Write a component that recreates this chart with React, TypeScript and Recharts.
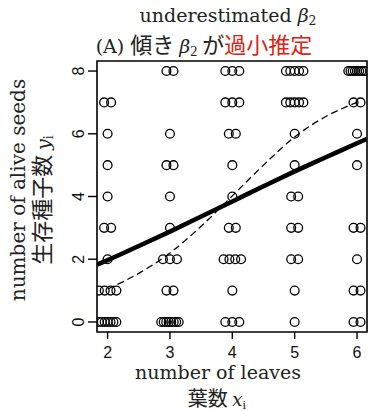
import React from 'react'
import { ComposedChart, Scatter, Line, XAxis, YAxis, ReferenceArea } from 'recharts'

// number of leaves (x) and possible seed counts (y, out of 8)
const leafValues = [2, 3, 4, 5, 6]
const seedLevels = [0, 1, 2, 3, 4, 5, 6, 7, 8]

// how many plants sit at each seed level, one array per leaf count
const countsAt2 = [7, 4, 1, 2, 1, 1, 1, 2, 0]
const countsAt3 = [8, 2, 3, 1, 1, 2, 1, 0, 2]
const countsAt4 = [3, 1, 4, 2, 1, 1, 2, 3, 3]
const countsAt5 = [1, 1, 2, 2, 2, 1, 1, 5, 5]
const countsAt6 = [2, 2, 1, 2, 0, 1, 1, 2, 9]
const countsByLeaf = [countsAt2, countsAt3, countsAt4, countsAt5, countsAt6]

// fitted curves
const solidX = [1.83, 2, 2.5, 3, 3.5, 4, 4.5, 5, 5.5, 6, 6.16]
const solidY = [1.83, 1.97, 2.42, 2.88, 3.36, 3.84, 4.33, 4.8, 5.25, 5.7, 5.84]
const dashX = [2, 2.5, 3, 3.5, 4, 4.5, 5, 5.5, 6]
const dashY = [1.05, 1.55, 2.2, 3.05, 4.02, 5.0, 5.9, 6.55, 7.0]

const xTicks = [2, 3, 4, 5, 6]
const yTicks = [0, 2, 4, 6, 8]

// spread overlapping points side by side
const points: { x: number; y: number }[] = []
leafValues.forEach((leaf, i) => {
  countsByLeaf[i].forEach((n, j) => {
    const step = n > 1 ? Math.min(0.112, 0.28 / (n - 1)) : 0
    for (let k = 0; k < n; k++) {
      points.push({ x: leaf + (k - (n - 1) / 2) * step, y: seedLevels[j] })
    }
  })
})
const solidData = solidX.map((x, i) => ({ x, y: solidY[i] }))
const dashData = dashX.map((x, i) => ({ x, y: dashY[i] }))

const serif = '"DejaVu Serif", serif'
const sans = '"Liberation Sans", Arial, sans-serif'
const cjk = '"Noto Sans CJK JP", "Noto Sans", sans-serif'

const OpenCircle = (props: any) => (
  <circle cx={props.cx} cy={props.cy} r={4.4} fill="none" stroke="#000" strokeWidth={1.3} />
)

const XTick = (props: any) => (
  <text x={props.x} y={358} textAnchor="middle" fontFamily={sans} fontSize={16} fill="#111">
    {props.payload.value}
  </text>
)

const YTick = (props: any) => (
  <text
    x={84}
    y={props.y}
    textAnchor="middle"
    transform={`rotate(-90 84 ${props.y})`}
    fontFamily={sans}
    fontSize={16}
    fill="#111"
  >
    {props.payload.value}
  </text>
)

const Sub = ({ children }: { children: React.ReactNode }) => (
  <sub style={{ fontSize: '0.65em', verticalAlign: '-0.2em', fontStyle: 'normal', lineHeight: 0 }}>{children}</sub>
)

const label = (left: number, top: number, rotate = false): React.CSSProperties => ({
  position: 'absolute',
  left,
  top,
  transform: `translate(-50%, -50%)${rotate ? ' rotate(-90deg)' : ''}`,
  whiteSpace: 'nowrap',
  lineHeight: 0.9,
  color: '#222',
})

export default function App() {
  return (
    <div style={{ position: 'absolute', left: 0, top: 0, width: 370, height: 411, background: '#fff' }}>
      <ComposedChart width={370} height={411} margin={{ top: 61, right: 3, bottom: 0, left: 0 }}>
        <XAxis
          type="number"
          dataKey="x"
          domain={[1.83, 6.16]}
          ticks={xTicks}
          allowDataOverflow
          height={79}
          axisLine={false}
          tickSize={7}
          tickLine={{ stroke: '#000', strokeWidth: 1.4 }}
          tick={<XTick />}
        />
        <YAxis
          type="number"
          dataKey="y"
          domain={[-0.32, 8.32]}
          ticks={yTicks}
          allowDataOverflow
          width={97}
          axisLine={false}
          tickSize={9}
          tickLine={{ stroke: '#000', strokeWidth: 1.4 }}
          tick={<YTick />}
        />
        <ReferenceArea x1={1.83} x2={6.16} y1={-0.32} y2={8.32} fill="none" stroke="#000" strokeWidth={1.6} />
        <Scatter data={points} dataKey="y" shape={<OpenCircle />} isAnimationActive={false} />
        <Line
          data={dashData}
          dataKey="y"
          type="monotone"
          stroke="#000"
          strokeWidth={1.3}
          strokeDasharray="7 4"
          dot={false}
          isAnimationActive={false}
        />
        <Line
          data={solidData}
          dataKey="y"
          type="monotone"
          stroke="#000"
          strokeWidth={4.5}
          dot={false}
          isAnimationActive={false}
        />
      </ComposedChart>

      <div style={{ ...label(228, 16), fontFamily: serif, fontSize: 19 }}>
        underestimated <i>β</i>
        <Sub>2</Sub>
      </div>
      <div style={{ ...label(204, 45), fontSize: 22 }}>
        <span style={{ fontFamily: serif, fontSize: 19 }}>(A) </span>
        <span style={{ fontFamily: cjk }}>傾き </span>
        <i style={{ fontFamily: serif, fontSize: 19 }}>β</i>
        <Sub>2</Sub>
        <span style={{ fontFamily: cjk }}> が</span>
        <span style={{ fontFamily: cjk, color: '#dd2211' }}>過小推定</span>
      </div>

      <div style={{ ...label(218, 373), fontFamily: serif, fontSize: 19 }}>number of leaves</div>
      <div style={{ ...label(217, 398.5), fontSize: 20 }}>
        <span style={{ fontFamily: cjk }}>葉数 </span>
        <i style={{ fontFamily: serif, fontSize: 18 }}>x</i>
        <Sub>i</Sub>
      </div>

      <div style={{ ...label(18, 190, true), fontFamily: serif, fontSize: 20 }}>number of alive seeds</div>
      <div style={{ ...label(42, 200, true), fontSize: 22 }}>
        <span style={{ fontFamily: cjk }}>生存種子数 </span>
        <i style={{ fontFamily: serif, fontSize: 19 }}>y</i>
        <Sub>i</Sub>
      </div>
    </div>
  )
}
